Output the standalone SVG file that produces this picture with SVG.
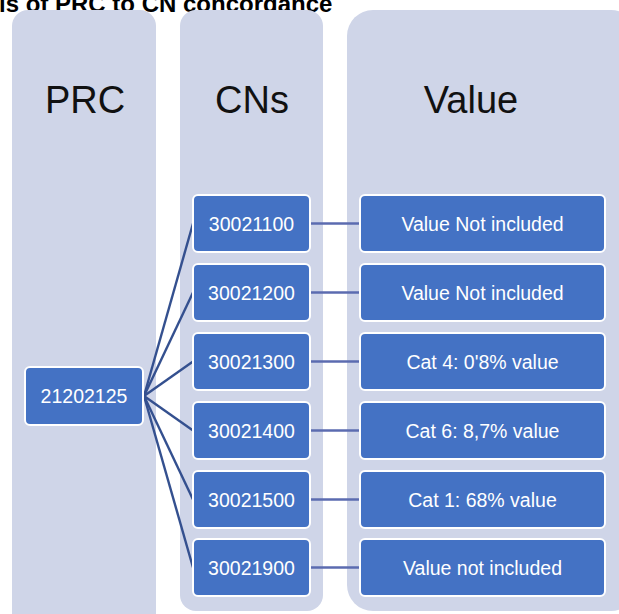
<svg xmlns="http://www.w3.org/2000/svg" width="619" height="614" viewBox="0 0 619 614">
<style>
.col{fill:#cfd5e8;}
.hdr{font-family:"Liberation Sans",Arial,sans-serif;font-size:38px;fill:#111;text-anchor:middle;}
.box{fill:#4472c4;stroke:#ffffff;stroke-width:2;}
.t{font-family:"Liberation Sans",Arial,sans-serif;font-size:19.5px;fill:#ffffff;text-anchor:middle;}
.fan{stroke:#34508f;stroke-width:2.4;fill:none;}
.lnk{stroke:#5b6bb0;stroke-width:2.5;fill:none;}
.title{font-family:"Liberation Sans",Arial,sans-serif;font-size:24px;font-weight:bold;fill:#000;}
</style>
<rect width="619" height="614" fill="#ffffff"/>
<text class="title" x="-1" y="12">ls of PRC to CN concordance</text>
<g id="col-prc"><rect class="col" x="12" y="10" width="144" height="630" rx="16"/><text class="hdr" x="85" y="113">PRC</text></g>
<g id="col-cns"><rect class="col" x="180" y="10" width="143" height="601" rx="16"/><text class="hdr" x="252" y="113">CNs</text></g>
<g id="col-value"><rect class="col" x="347" y="10" width="290" height="601" rx="26"/><text class="hdr" x="471" y="113">Value</text></g>
<g id="connectors">
<line class="fan" x1="144" y1="396" x2="193" y2="223.5"/>
<line class="fan" x1="144" y1="396" x2="193" y2="292.5"/>
<line class="fan" x1="144" y1="396" x2="193" y2="361.5"/>
<line class="fan" x1="144" y1="396" x2="193" y2="430.5"/>
<line class="fan" x1="144" y1="396" x2="193" y2="499.5"/>
<line class="fan" x1="144" y1="396" x2="193" y2="567.5"/>
<line class="lnk" x1="311" y1="223.5" x2="360" y2="223.5"/>
<line class="lnk" x1="311" y1="292.5" x2="360" y2="292.5"/>
<line class="lnk" x1="311" y1="361.5" x2="360" y2="361.5"/>
<line class="lnk" x1="311" y1="430.5" x2="360" y2="430.5"/>
<line class="lnk" x1="311" y1="499.5" x2="360" y2="499.5"/>
<line class="lnk" x1="311" y1="567.5" x2="360" y2="567.5"/>
</g>
<g id="prc-21202125"><rect class="box" x="25" y="367" width="118" height="58" rx="5"/><text class="t" x="84" y="403">21202125</text></g>
<g id="cn-30021100"><rect class="box" x="193" y="195" width="117" height="57" rx="5"/><text class="t" x="251.5" y="230.5">30021100</text></g>
<g id="cn-30021200"><rect class="box" x="193" y="264" width="117" height="57" rx="5"/><text class="t" x="251.5" y="299.5">30021200</text></g>
<g id="cn-30021300"><rect class="box" x="193" y="333" width="117" height="57" rx="5"/><text class="t" x="251.5" y="368.5">30021300</text></g>
<g id="cn-30021400"><rect class="box" x="193" y="402" width="117" height="57" rx="5"/><text class="t" x="251.5" y="437.5">30021400</text></g>
<g id="cn-30021500"><rect class="box" x="193" y="471" width="117" height="57" rx="5"/><text class="t" x="251.5" y="506.5">30021500</text></g>
<g id="cn-30021900"><rect class="box" x="193" y="539" width="117" height="57" rx="5"/><text class="t" x="251.5" y="574.5">30021900</text></g>
<g id="val-1"><rect class="box" x="360" y="195" width="245" height="57" rx="5"/><text class="t" x="482.5" y="230.5">Value Not included</text></g>
<g id="val-2"><rect class="box" x="360" y="264" width="245" height="57" rx="5"/><text class="t" x="482.5" y="299.5">Value Not included</text></g>
<g id="val-3"><rect class="box" x="360" y="333" width="245" height="57" rx="5"/><text class="t" x="482.5" y="368.5">Cat 4: 0'8% value</text></g>
<g id="val-4"><rect class="box" x="360" y="402" width="245" height="57" rx="5"/><text class="t" x="482.5" y="437.5">Cat 6: 8,7% value</text></g>
<g id="val-5"><rect class="box" x="360" y="471" width="245" height="57" rx="5"/><text class="t" x="482.5" y="506.5">Cat 1: 68% value</text></g>
<g id="val-6"><rect class="box" x="360" y="539" width="245" height="57" rx="5"/><text class="t" x="482.5" y="574.5">Value not included</text></g>
</svg>
